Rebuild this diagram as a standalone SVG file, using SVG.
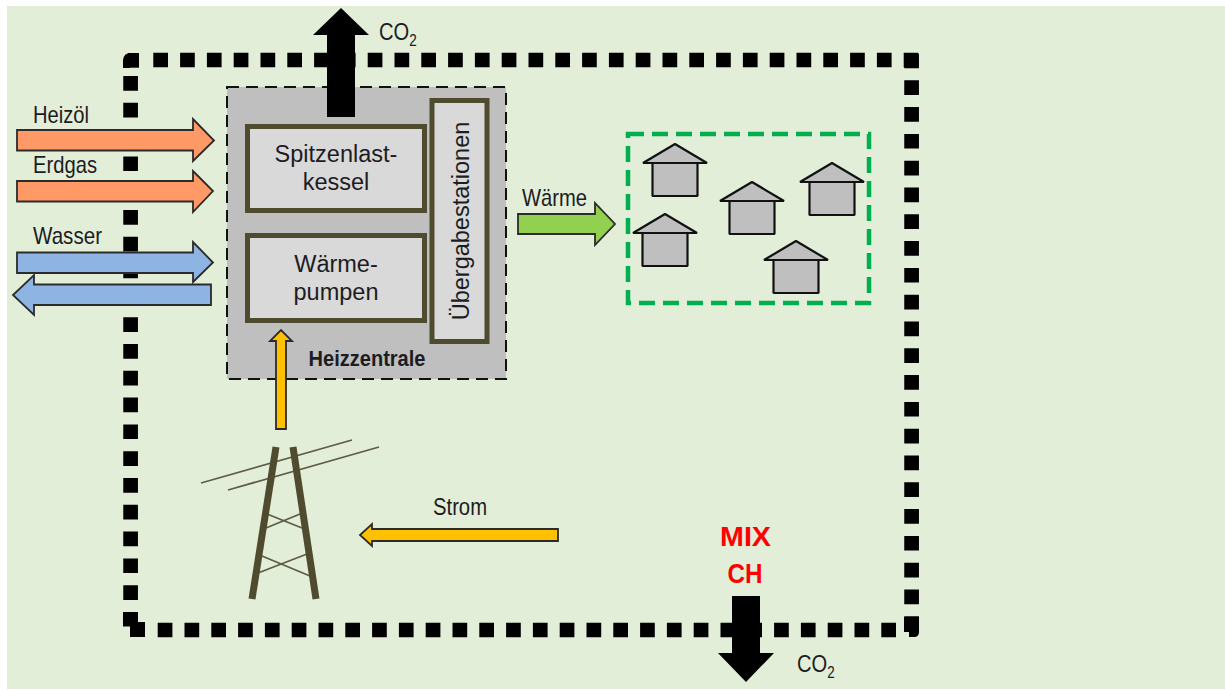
<svg xmlns="http://www.w3.org/2000/svg" width="1225" height="691" viewBox="0 0 1225 691">
<style>
text{font-family:"Liberation Sans",Arial,sans-serif;fill:#1c1c22}
.lbl{font-size:24px}
.box{font-size:23.5px;text-anchor:middle}
.frame{fill:none;stroke:#000;stroke-width:14.7;stroke-dasharray:14.7 12.1}
.unit{fill:#d9d9d9;stroke:#4f4b2f;stroke-width:5}
.ar{stroke:#2b2b2b;stroke-width:1.8;stroke-linejoin:miter}
.oil{fill:#ff9966}.water{fill:#8eb4e3}.elec{fill:#ffc000}.heat{fill:#92d050}
.leg{stroke:#4f4b2f;stroke-width:7;fill:none}
.wire{stroke:#5f5c46;stroke-width:1.8;fill:none}
.hs{fill:#bfbfbf;stroke:#111;stroke-width:2.2;stroke-linejoin:bevel}
.red{font-size:27px;font-weight:bold;fill:#ff0000;text-anchor:middle}
</style>
<defs>
<g id="house-shape">
<rect class="hs" x="-22.5" y="19" width="45" height="33"/>
<polygon class="hs" points="0,0 32,19 -32,19"/>
</g>
</defs>
<rect x="7" y="6" width="1218" height="683" fill="#e3eed9"/>
<g id="boundary">
<path class="frame" d="M153.3 60H918"/>
<path class="frame" d="M130.6 76V612"/>
<path class="frame" d="M911.6 53.5V626"/>
<path class="frame" d="M157.7 630H897"/>
<rect x="128" y="53" width="11" height="14.7"/>
<path d="M123 60Q124 53 130 53V68H123Z"/>
<rect x="123" y="612" width="15" height="14.5"/>
<rect x="130" y="622" width="15" height="15"/>
<path d="M904 617H919V632Q919 637 914 637H909V632H904Z"/>
</g>
<g id="heizzentrale">
<rect x="227" y="87" width="279" height="292" fill="#bfbfbf" stroke="#111" stroke-width="2" stroke-dasharray="12 7"/>
<text x="367" y="366" font-size="22.500" font-weight="bold" text-anchor="middle" textLength="117" lengthAdjust="spacingAndGlyphs">Heizzentrale</text>
</g>
<g id="spitzenlastkessel">
<rect class="unit" x="247.5" y="126.5" width="177" height="84"/>
<text class="box" x="336" y="162">Spitzenlast-</text>
<text class="box" x="336" y="190">kessel</text>
</g>
<g id="waermepumpen">
<rect class="unit" x="247.5" y="235.5" width="177" height="85"/>
<text class="box" x="336" y="272">Wärme-</text>
<text class="box" x="336" y="300">pumpen</text>
</g>
<g id="uebergabestationen">
<rect class="unit" x="432" y="100.5" width="55" height="241"/>
<text class="box" transform="translate(469 221) rotate(-90)">Übergabestationen</text>
</g>
<g id="connectors">
<polygon fill="#000" points="327,117 327,35 313,35 341,8 369,35 355,35 355,117"/>
<polygon class="ar oil" points="17,130 193,130 193,119 214,140.500 193,161 193,150.500 17,150.500"/>
<polygon class="ar oil" points="17,181 193,181 193,171 213,191 193,212 193,201.500 17,201.500"/>
<polygon class="ar water" points="17,252.500 193,252.500 193,242 213,262.500 193,282 193,273 17,273"/>
<polygon class="ar water" points="211,284.500 34,284.500 34,275 13,295 34,315 34,305 211,305"/>
<polygon class="ar elec" points="276,429 276,341 270,341 281,330 292,341 286,341 286,429"/>
<polygon class="ar elec" points="558,529 372,529 372,524 360,535 372,546 372,541 558,541"/>
<polygon class="ar heat" points="518,214 595,214 595,203 615,224 595,245 595,234 518,234"/>
<polygon fill="#000" points="732,596 760,596 760,653 774,653 746,682 718,653 732,653"/>
</g>
<g id="strommast">
<path class="wire" d="M201 483L352 440M228 490L379 447M267 514L302 528M266 528L300 514M262 556L310 576M258 573L307 554"/>
<path class="leg" d="M276 447L252 599M293 447L316 599"/>
</g>
<g id="siedlung">
<rect x="628" y="134" width="241" height="169" fill="none" stroke="#00b050" stroke-width="4.500" stroke-dasharray="16 8"/>
</g>
<g id="haus-1"><use href="#house-shape" x="675" y="144"/></g>
<g id="haus-2"><use href="#house-shape" x="752" y="182"/></g>
<g id="haus-3"><use href="#house-shape" x="832" y="163"/></g>
<g id="haus-4"><use href="#house-shape" x="665" y="214"/></g>
<g id="haus-5"><use href="#house-shape" x="796" y="241"/></g>
<g id="labels">
<text class="lbl" x="33" y="123" textLength="56" lengthAdjust="spacingAndGlyphs">Heizöl</text>
<text class="lbl" x="33" y="173" textLength="64" lengthAdjust="spacingAndGlyphs">Erdgas</text>
<text class="lbl" x="33" y="244" textLength="69" lengthAdjust="spacingAndGlyphs">Wasser</text>
<text class="lbl" x="522" y="206" textLength="65" lengthAdjust="spacingAndGlyphs">Wärme</text>
<text class="lbl" x="433" y="515" textLength="54" lengthAdjust="spacingAndGlyphs">Strom</text>
<text class="lbl" transform="translate(379 40) scale(.84 1)">CO<tspan font-size="16" dy="6">2</tspan></text>
<text class="lbl" transform="translate(797 672) scale(.84 1)">CO<tspan font-size="16" dy="6">2</tspan></text>
<text class="red" x="745.500" y="546" textLength="51" lengthAdjust="spacingAndGlyphs">MIX</text>
<text class="red" x="745" y="583" textLength="35" lengthAdjust="spacingAndGlyphs">CH</text>
</g>
</svg>
